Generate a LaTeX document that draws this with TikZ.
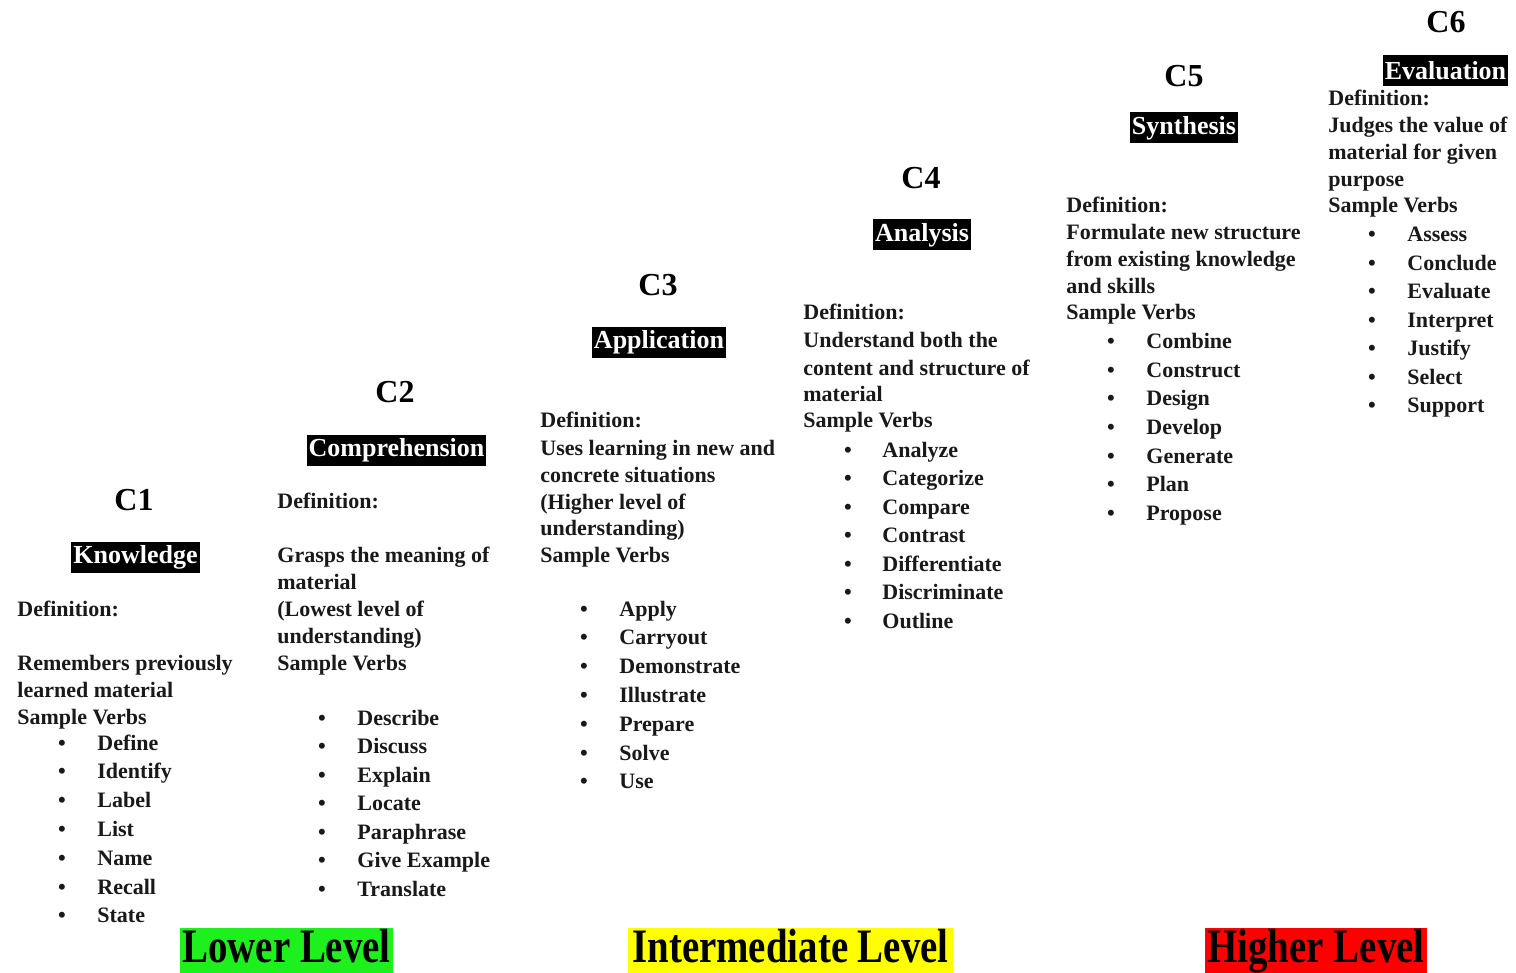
\documentclass[tikz,border=0pt]{standalone}
\usepackage{fontspec}
\setmainfont{Liberation Serif}
\definecolor{lgreen}{HTML}{1EF01E}
\definecolor{lyellow}{HTML}{FFFF00}
\definecolor{lred}{HTML}{FF0000}
\begin{document}
\begin{tikzpicture}[x=0.5pt,y=-0.5pt,
 txt/.style={font=\bfseries\fontsize{11}{13}\selectfont, text=black!90, inner sep=0pt, anchor=base west},
 bul/.style={font=\bfseries\fontsize{11}{13}\selectfont, text=black!90, inner sep=0pt, anchor=base},
 ctl/.style={font=\bfseries\fontsize{16}{18}\selectfont, inner sep=0pt},
 hdr/.style={fill=black, text=white, font=\bfseries\fontsize{13}{15}\selectfont, inner xsep=1pt, inner ysep=0pt, minimum height=15.5pt},
 lvl/.style={font=\bfseries\fontsize{24}{26}\selectfont, inner xsep=0pt, inner ysep=0pt, text height=17pt, text depth=5.4pt, anchor=base}]
\useasboundingbox (0,0) rectangle (1516,973);

% ---------- C1 ----------
\node[ctl] (t1) at (134,500) {C1};
\node[hdr] (h1) at (135.5,557.5) {Knowledge};
\node[txt] (c1d1) at (17,616) {Definition:};
\node[txt] (c1d2) at (17,670) {Remembers previously};
\node[txt] (c1d3) at (17,697) {learned material};
\node[txt] (c1d4) at (17,724) {Sample Verbs};
\foreach \t [count=\i from 0] in {Define,Identify,Label,List,Name,Recall,State}{
  \node[bul] (c1b\i) at (62,750+\i*28.8) {•};
  \node[txt] (c1v\i) at (97,750+\i*28.8) {\t};
}

% ---------- C2 ----------
\node[ctl] (t2) at (395,392) {C2};
\node[hdr] (h2) at (396.5,450.5) {Comprehension};
\node[txt] (c2d1) at (277,508) {Definition:};
\node[txt] (c2d2) at (277,562) {Grasps the meaning of};
\node[txt] (c2d3) at (277,589) {material};
\node[txt] (c2d4) at (277,616) {(Lowest level of};
\node[txt] (c2d5) at (277,643) {understanding)};
\node[txt] (c2d6) at (277,670) {Sample Verbs};
\foreach \t [count=\i from 0] in {Describe,Discuss,Explain,Locate,Paraphrase,Give Example,Translate}{
  \node[bul] (c2b\i) at (322,725+\i*28.5) {•};
  \node[txt] (c2v\i) at (357,725+\i*28.5) {\t};
}

% ---------- C3 ----------
\node[ctl] (t3) at (658,285) {C3};
\node[hdr] (h3) at (659,342.5) {Application};
\node[txt] (c3d1) at (540,428) {Definition:};
\node[txt] (c3d2) at (540,455) {Uses learning in new and};
\node[txt] (c3d3) at (540,482) {concrete situations};
\node[txt] (c3d4) at (540,509) {(Higher level of};
\node[txt] (c3d5) at (540,535) {understanding)};
\node[txt] (c3d6) at (540,562) {Sample Verbs};
\foreach \t [count=\i from 0] in {Apply,Carryout,Demonstrate,Illustrate,Prepare,Solve,Use}{
  \node[bul] (c3b\i) at (584,616+\i*28.8) {•};
  \node[txt] (c3v\i) at (619,616+\i*28.8) {\t};
}

% ---------- C4 ----------
\node[ctl] (t4) at (921,178) {C4};
\node[hdr] (h4) at (922,235) {Analysis};
\node[txt] (c4d1) at (803,320) {Definition:};
\node[txt] (c4d2) at (803,348) {Understand both the};
\node[txt] (c4d3) at (803,375) {content and structure of};
\node[txt] (c4d4) at (803,401) {material};
\node[txt] (c4d5) at (803,428) {Sample Verbs};
\foreach \t [count=\i from 0] in {Analyze,Categorize,Compare,Contrast,Differentiate,Discriminate,Outline}{
  \node[bul] (c4b\i) at (848,457+\i*28.5) {•};
  \node[txt] (c4v\i) at (882,457+\i*28.5) {\t};
}

% ---------- C5 ----------
\node[ctl] (t5) at (1184,76) {C5};
\node[hdr] (h5) at (1184,128) {Synthesis};
\node[txt] (c5d1) at (1066,213) {Definition:};
\node[txt] (c5d2) at (1066,240) {Formulate new structure};
\node[txt] (c5d3) at (1066,267) {from existing knowledge};
\node[txt] (c5d4) at (1066,294) {and skills};
\node[txt] (c5d5) at (1066,320) {Sample Verbs};
\foreach \t [count=\i from 0] in {Combine,Construct,Design,Develop,Generate,Plan,Propose}{
  \node[bul] (c5b\i) at (1111,349+\i*28.5) {•};
  \node[txt] (c5v\i) at (1146,349+\i*28.5) {\t};
}

% ---------- C6 ----------
\node[ctl] (t6) at (1446,22) {C6};
\node[hdr] (h6) at (1445.5,70.5) {Evaluation};
\node[txt] (c6d1) at (1328,106) {Definition:};
\node[txt] (c6d2) at (1328,133) {Judges the value of};
\node[txt] (c6d3) at (1328,160) {material for given};
\node[txt] (c6d4) at (1328,187) {purpose};
\node[txt] (c6d5) at (1328,213) {Sample Verbs};
\foreach \t [count=\i from 0] in {Assess,Conclude,Evaluate,Interpret,Justify,Select,Support}{
  \node[bul] (c6b\i) at (1372,242+\i*28.5) {•};
  \node[txt] (c6v\i) at (1407,242+\i*28.5) {\t};
}

% ---------- Levels ----------
\node[lvl, fill=lgreen, minimum width=106.5pt] (low) at (286.5,962) {\scalebox{0.81}[1]{Lower Level}};
\node[lvl, fill=lyellow, minimum width=162.5pt] (mid) at (790.5,962) {\scalebox{0.81}[1]{Intermediate Level}};
\node[lvl, fill=lred, minimum width=111pt] (high) at (1316,962) {\scalebox{0.81}[1]{Higher Level}};
\end{tikzpicture}
\end{document}
